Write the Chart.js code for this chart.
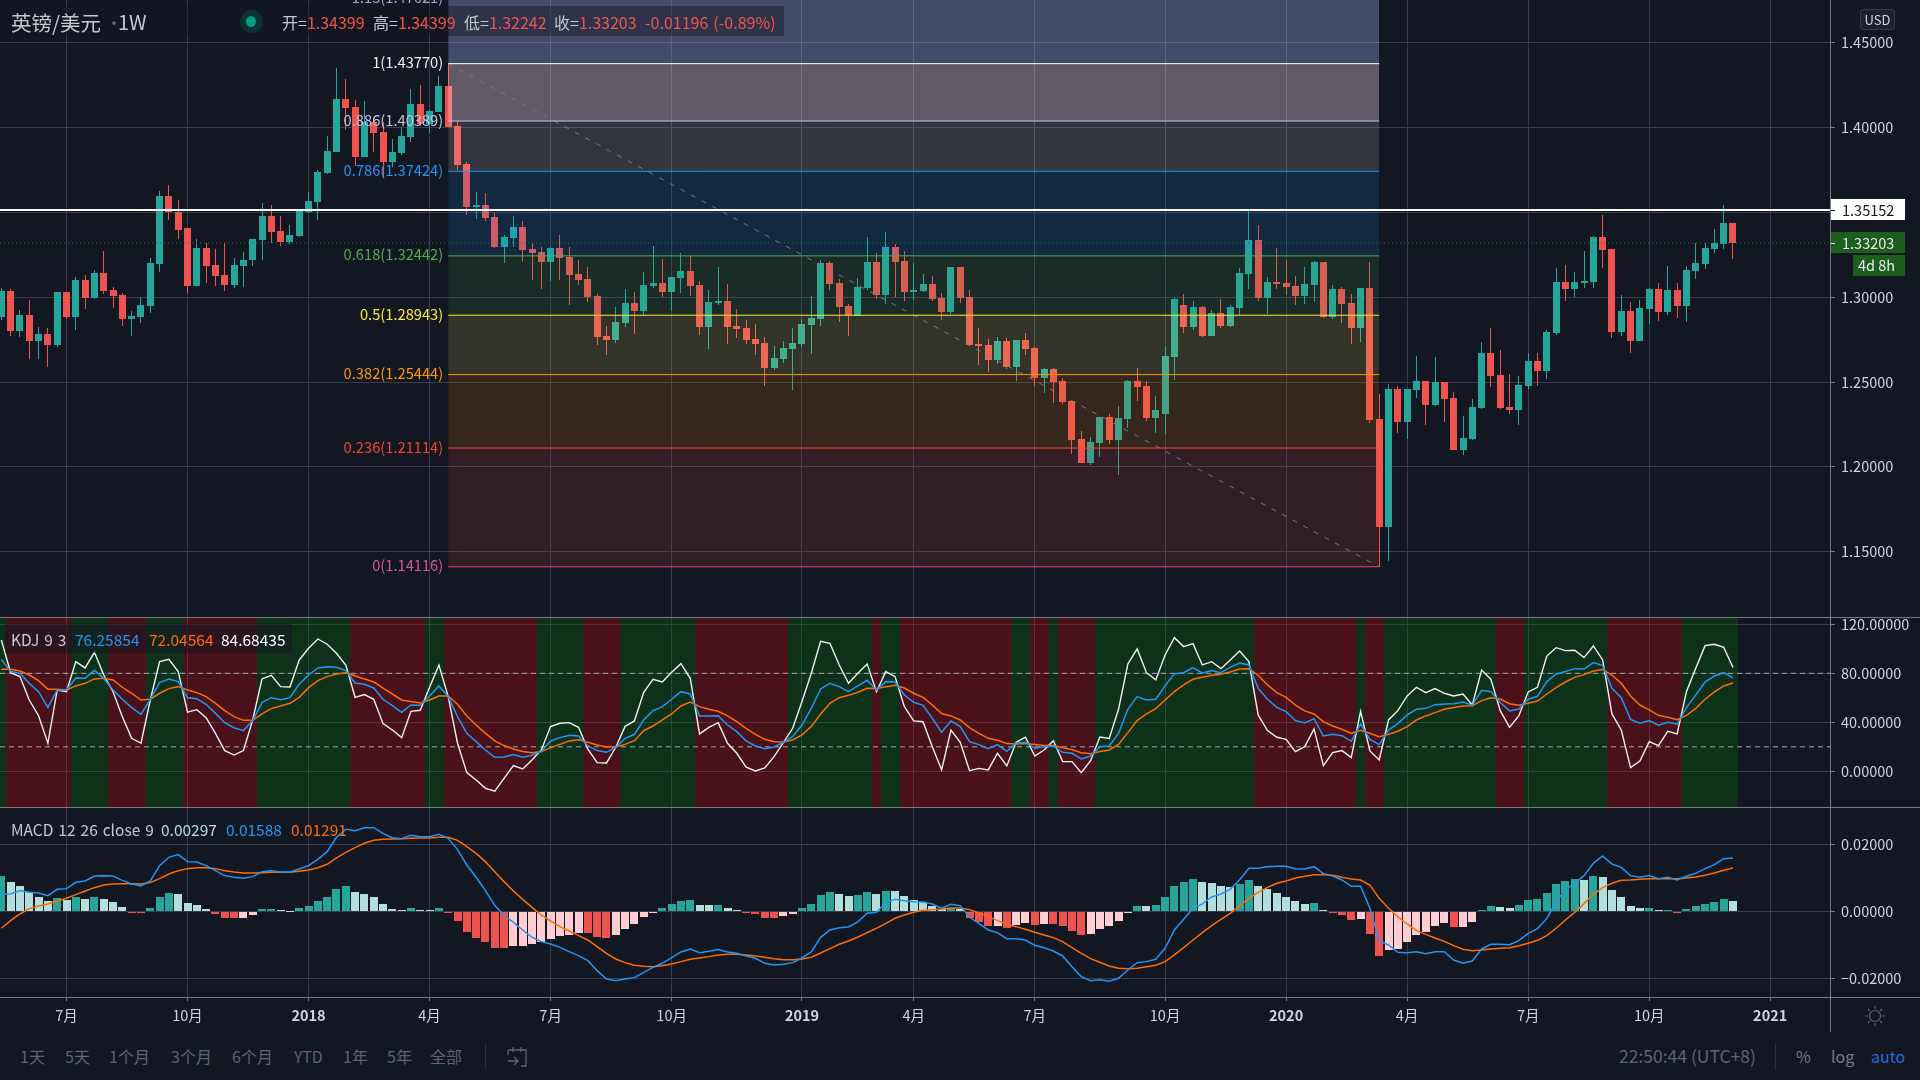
<!DOCTYPE html>
<html><head><meta charset="utf-8">
<script src="https://cdn.jsdelivr.net/npm/chart.js@4"></script>
<style>
html,body{margin:0;padding:0;background:#131722;width:1920px;height:1080px;overflow:hidden;font-family:"Noto Sans CJK SC","Noto Sans",sans-serif}
canvas{position:absolute;left:0}
.t{position:absolute;white-space:nowrap;line-height:20px;font-size:15.5px;color:#c5c8d0;word-spacing:1.5px}
.p{position:absolute}
.tb{position:absolute;white-space:nowrap;font-size:16px;line-height:22px;color:#5d6476;top:1045px}
</style></head><body>
<canvas id="cMain" width="1920" height="617" style="top:0"></canvas>
<canvas id="cKdj" width="1920" height="189" style="top:618px"></canvas>
<canvas id="cMacd" width="1920" height="224" style="top:808px"></canvas>

<div class="p" style="left:0;top:617px;width:1920px;height:1px;background:#787b86"></div>
<div class="p" style="left:0;top:807px;width:1920px;height:1px;background:#787b86"></div>
<div class="p" style="left:0;top:997px;width:1920px;height:1px;background:#787b86"></div>
<div class="p" style="left:1830px;top:0;width:1px;height:1032px;background:#787b86"></div>

<div class="p" style="left:0;top:6px;width:784px;height:30px;background:rgba(19,23,34,.45)"></div>
<div class="t" style="left:11px;top:10px;font-size:20.5px;line-height:24px;color:#c5c8d0">英镑/美元</div>
<div class="t" style="left:105px;top:10px;font-size:18px;line-height:24px;color:#5d6476">·</div>
<div class="t" style="left:118px;top:10px;font-size:20px;line-height:24px;color:#c5c8d0">1W</div>
<div class="p" style="left:240px;top:10px;width:23px;height:23px;border-radius:50%;background:#0b3333"></div>
<div class="p" style="left:246px;top:16px;width:10px;height:11px;border-radius:50%;background:#089981"></div>
<div class="t" style="left:282px;top:12px;font-size:16px">开=<span style="color:#ef5350">1.34399</span></div>
<div class="t" style="left:373px;top:12px;font-size:16px">高=<span style="color:#ef5350">1.34399</span></div>
<div class="t" style="left:464px;top:12px;font-size:16px">低=<span style="color:#ef5350">1.32242</span></div>
<div class="t" style="left:554px;top:12px;font-size:16px">收=<span style="color:#ef5350">1.33203</span></div>
<div class="t" style="left:645px;top:12px;font-size:16px;color:#ef5350">-0.01196 (-0.89%)</div>

<div class="p" style="left:1860px;top:9px;width:35px;height:21px;box-sizing:border-box;background:#1e222d;border:1px solid #363c4e;border-radius:3px;color:#d1d4dc;font-size:13px;line-height:19px;text-align:center">USD</div>

<div class="p" style="left:5px;top:623px;width:287px;height:30px;background:rgba(19,23,34,.55)"></div>
<div class="t" style="left:11px;top:629px">KDJ 9 3</div>
<div class="t" style="left:75px;top:629px;color:#2196f3">76.25854</div>
<div class="t" style="left:149px;top:629px;color:#ff6d00">72.04564</div>
<div class="t" style="left:221px;top:629px;color:#ffffff">84.68435</div>

<div class="t" style="left:11px;top:819px">MACD 12 26 close 9</div>
<div class="t" style="left:161px;top:819px;color:#b2dfdb">0.00297</div>
<div class="t" style="left:226px;top:819px;color:#2196f3">0.01588</div>
<div class="t" style="left:291px;top:819px;color:#ff6d00">0.01291</div>

<div class="tb" style="left:20px">1天</div><div class="tb" style="left:65px">5天</div>
<div class="tb" style="left:109px">1个月</div><div class="tb" style="left:171px">3个月</div>
<div class="tb" style="left:232px">6个月</div><div class="tb" style="left:294px">YTD</div>
<div class="tb" style="left:343px">1年</div><div class="tb" style="left:387px">5年</div>
<div class="tb" style="left:430px">全部</div>
<div class="p" style="left:485px;top:1043px;width:1px;height:27px;background:#2a2e39"></div>
<svg class="p" style="left:506px;top:1046px" width="24" height="22" viewBox="0 0 24 22" fill="none" stroke="#5d6476" stroke-width="1.3"><path d="M2 4h18v16h-5M2 4v5M7 1v5M15 1v5M2 15h10M8 11l4 4-4 4"/></svg>
<div class="tb" style="left:1619px;color:#5d6476;font-size:17.5px">22:50:44 (UTC+8)</div>
<div class="p" style="left:1775px;top:1043px;width:1px;height:27px;background:#2a2e39"></div>
<div class="tb" style="left:1796px;color:#787b86">%</div>
<div class="tb" style="left:1831px;color:#787b86">log</div>
<div class="tb" style="left:1871px;color:#1f6fe0">auto</div>
<svg class="p" style="left:1864px;top:1005px" width="22" height="22" viewBox="0 0 22 22" fill="none" stroke="#5d6476" stroke-width="1.2"><circle cx="11" cy="11" r="5.5"/><path d="M11 1v3M11 18v3M1 11h3M18 11h3M4 4l2 2M16 16l2 2M4 18l2-2M16 6l2-2"/></svg>

<script>
const fontFamily = '"Noto Sans CJK SC","Noto Sans",sans-serif';

const opens = [1.2886,1.3038,1.2803,1.2896,1.2744,1.2784,1.2721,1.3032,1.2886,1.3103,
1.2998,1.3144,1.3044,1.3014,1.2874,1.2886,1.2951,1.3197,1.3599,1.3504,
1.3406,1.3069,1.3291,1.3191,1.3132,1.3073,1.3187,1.3217,1.3339,1.348,
1.3392,1.3325,1.3362,1.3504,1.3563,1.3734,1.3858,1.4171,1.4124,1.3829,
1.4036,1.3976,1.3799,1.3852,1.3947,1.4142,1.4024,1.4095,1.4248,1.4012,
1.3787,1.3534,1.3545,1.3475,1.3297,1.335,1.3415,1.3286,1.3268,1.3209,
1.3291,1.3238,1.3138,1.3108,1.3008,1.2772,1.2748,1.2849,1.2967,
1.2919,1.3067,1.3085,1.3032,1.3114,1.3156,1.3073,1.2825,1.2967,1.2979,1.2831,
1.2819,1.2754,1.2731,1.2583,1.2636,1.2695,1.2725,1.2837,1.2872,1.3203,
1.3085,1.2949,1.2888,1.3055,1.3209,1.3014,1.3297,1.3215,1.3032,1.3038,
1.3079,1.2996,1.2914,1.3179,1.3002,1.2725,1.2719,1.263,1.2742,1.2589,
1.2748,1.2701,1.2524,1.2577,1.2506,1.2388,1.2164,1.2022,1.214,1.2294,
1.2158,1.2282,1.2506,1.2477,1.2288,1.2311,1.2648,1.2955,1.2825,1.2943,
1.2772,1.2908,1.2831,1.2937,1.3138,1.3339,1.2996,1.3091,1.3085,1.3067,
1.3008,1.3073,1.3209,1.2884,1.3049,1.2967,1.2819,1.3055,1.2282,1.1644,
1.2459,1.2264,1.2453,1.2506,1.2364,1.25,1.2406,1.2099,1.2163,1.2347,
1.2671,1.2541,1.2352,1.2335,1.2476,1.2624,1.2565,1.2789,1.3091,1.3049,
1.3085,1.3091,1.3356,1.3286,1.2795,1.2919,1.2742,1.2931,1.3049,1.2913,
1.3043,1.2949,1.3156,1.3197,1.3286,1.3315,1.34399];

const highs = [1.3053,1.3049,1.2923,1.2984,1.2825,1.2819,1.3032,1.3032,1.3118,1.3132,
1.3162,1.3274,1.3059,1.3026,1.2919,1.3002,1.3231,1.3624,1.3663,1.3575,
1.3406,1.3345,1.3321,1.3286,1.3321,1.3232,1.3268,1.3345,1.3557,1.3545,
1.348,1.3427,1.351,1.3622,1.3752,1.3953,1.4354,1.4289,1.416,1.4154,
1.4057,1.4036,1.3935,1.4006,1.423,1.4254,1.4106,1.4307,1.4377,1.4041,
1.3799,1.3622,1.3616,1.3498,1.3368,1.348,1.3451,1.3321,1.3297,1.3297,
1.3368,1.3297,1.3221,1.3179,1.302,1.2831,1.2943,1.3049,1.3032,
1.315,1.3303,1.3227,1.312,1.3262,1.3244,1.3097,1.3044,1.3179,1.3079,1.2931,
1.2866,1.2843,1.2766,1.2713,1.2742,1.2819,1.2872,1.3008,1.3221,1.3215,
1.3108,1.2961,1.3114,1.3356,1.3262,1.3386,1.3315,1.3274,1.3203,1.3138,
1.3126,1.3026,1.3179,1.3179,1.3044,1.2819,1.2754,1.2766,1.276,1.2748,
1.279,1.2707,1.2583,1.2583,1.2524,1.2388,1.2211,1.2175,1.2294,1.2311,
1.2358,1.2512,1.2583,1.2506,1.2418,1.2713,1.2996,1.302,1.2979,1.2949,
1.2923,1.299,1.2955,1.3173,1.3516,1.3427,1.312,1.3292,1.3221,1.3126,
1.3179,1.3215,1.3209,1.3073,1.3061,1.302,1.3055,1.3209,1.2429,1.2488,
1.2476,1.2459,1.2654,1.2506,1.2648,1.25,1.2441,1.2299,1.24,1.2736,
1.2819,1.2689,1.2547,1.2536,1.2671,1.2671,1.2807,1.3173,1.3191,1.315,
1.3274,1.3362,1.3486,1.3286,1.3014,1.2973,1.2984,1.3055,1.3085,1.3185,
1.3085,1.3185,1.3321,1.3321,1.3404,1.3545,1.34399];

const lows = [1.2866,1.2772,1.2768,1.2638,1.2638,1.2591,1.2709,1.287,1.2807,1.2931,
1.2992,1.302,1.2939,1.2833,1.2774,1.2851,1.291,1.3152,1.3453,1.3345,
1.3028,1.3069,1.3087,1.3069,1.3039,1.3057,1.3063,1.3187,1.3221,1.3321,
1.3303,1.3315,1.3354,1.3496,1.3457,1.3728,1.3858,1.3988,1.3776,1.3829,
1.3858,1.3711,1.377,1.3841,1.3917,1.4012,1.3971,1.4095,1.4006,1.3752,
1.3486,1.3463,1.3451,1.3291,1.3203,1.3297,1.3209,1.3102,1.3049,1.3097,
1.3102,1.2955,1.3073,1.2973,1.2719,1.266,1.273,1.2825,1.2784,
1.2896,1.3055,1.3002,1.2919,1.3026,1.3008,1.2778,1.2695,1.2955,1.2725,1.276,
1.2725,1.266,1.2477,1.2571,1.2612,1.2453,1.2707,1.2666,1.2831,1.3044,
1.2855,1.2772,1.2888,1.3044,1.299,1.2961,1.3002,1.2979,1.2984,1.3032,
1.2979,1.2866,1.2902,1.2967,1.2713,1.2601,1.2559,1.2606,1.2577,1.2506,
1.266,1.2477,1.2435,1.2376,1.237,1.2075,1.2022,1.201,1.2057,1.2134,
1.1951,1.2229,1.2388,1.227,1.2199,1.2193,1.2512,1.279,1.2807,1.2766,
1.2772,1.2819,1.2825,1.2896,1.3049,1.2979,1.2902,1.3049,1.3014,1.2955,
1.2961,1.2973,1.2878,1.2872,1.2849,1.2724,1.2736,1.2258,1.14116,1.1443,
1.2199,1.2163,1.2406,1.2246,1.2358,1.2264,1.2099,1.2069,1.2158,1.2341,
1.2471,1.2341,1.2311,1.2246,1.2459,1.2476,1.2518,1.2778,1.2978,1.3002,
1.3055,1.3055,1.3173,1.276,1.2772,1.2671,1.2742,1.2843,1.286,1.2896,
1.2878,1.2854,1.3108,1.3167,1.3262,1.3286,1.32242];

const closes = [1.3038,1.2803,1.2896,1.2744,1.2784,1.2721,1.3032,1.2886,1.3103,1.2998,
1.3144,1.304,1.301,1.2874,1.289,1.2955,1.3203,1.3599,1.35,1.3398,
1.3069,1.3291,1.3187,1.3128,1.3073,1.3191,1.3221,1.3345,1.348,1.3386,
1.3325,1.3368,1.351,1.3569,1.374,1.3864,1.4171,1.4118,1.3829,1.4036,
1.3971,1.3799,1.3858,1.3953,1.4142,1.4024,1.41,1.4248,1.4006,1.3782,
1.3534,1.3545,1.3469,1.3297,1.3356,1.3415,1.328,1.326,1.3209,1.3291,
1.3232,1.3132,1.3102,1.3002,1.2766,1.2748,1.2854,1.2967,1.2919,
1.3073,1.3085,1.3032,1.312,1.3156,1.3067,1.2825,1.2973,1.2979,1.2825,1.2813,
1.2748,1.2725,1.2583,1.2642,1.2701,1.2731,1.2843,1.2878,1.3203,1.3079,
1.2943,1.2894,1.3061,1.3209,1.3014,1.3297,1.3209,1.3032,1.3044,1.3079,
1.299,1.2914,1.3179,1.2996,1.2719,1.2713,1.263,1.2742,1.2589,1.2748,
1.2695,1.2524,1.2577,1.25,1.2382,1.2158,1.2022,1.2146,1.2294,1.2158,
1.2288,1.2506,1.2471,1.2288,1.2335,1.2654,1.299,1.2825,1.2943,1.2772,
1.2908,1.2831,1.2943,1.3144,1.3339,1.2996,1.3091,1.3079,1.3061,1.3008,
1.3079,1.3209,1.2884,1.3049,1.2961,1.2819,1.3055,1.2276,1.1644,1.2459,
1.2264,1.2459,1.2506,1.2364,1.25,1.24,1.2099,1.2169,1.2352,1.2671,
1.2536,1.2347,1.2335,1.2482,1.2624,1.2565,1.2795,1.3091,1.3049,1.3091,
1.3097,1.3356,1.328,1.2795,1.2919,1.2742,1.2937,1.3049,1.2913,1.3043,
1.2949,1.3162,1.3203,1.3291,1.3321,1.344,1.33203];

const kdjK = [91.4,81.4,80.0,71.8,65.0,52.2,66.4,66.4,76.2,75.9,
82.4,75.9,66.4,58.8,52.0,46.5,58.8,72.4,75.4,73.2,
60.1,59.3,54.7,47.3,39.7,35.6,33.2,41.4,56.1,60.1,
58.5,60.1,71.3,78.6,84.4,85.4,84.9,82.2,72.1,71.0,
68.0,58.8,53.6,48.2,54.1,53.9,61.5,69.7,61.0,44.6,
31.0,24.2,17.4,11.4,11.7,13.6,11.4,13.1,16.3,24.8,
27.5,29.4,28.8,20.7,16.9,15.5,19.6,26.9,30.2,
41.9,49.5,52.8,58.8,65.0,63.1,45.2,45.2,45.4,37.8,32.4,
24.8,20.7,18.5,19.9,23.7,28.3,37.8,51.4,67.2,71.8,
69.1,65.0,69.7,74.3,66.4,73.2,72.9,62.3,56.3,53.9,
43.3,31.8,41.1,36.5,24.2,21.8,18.5,21.8,16.3,22.9,
23.7,18.8,20.1,20.7,15.5,14.7,10.1,12.5,20.1,20.7,
31.0,50.6,61.0,58.2,58.8,69.7,79.7,80.5,84.6,80.3,
82.2,80.5,84.9,88.4,86.8,67.8,58.8,52.2,48.7,41.4,
39.5,43.0,28.8,30.2,29.1,24.5,38.6,26.1,21.8,33.7,
38.9,46.0,50.6,51.4,54.4,55.0,55.2,56.6,53.9,66.1,
65.0,56.1,49.3,50.9,58.8,61.2,73.2,79.2,81.4,83.8,
83.5,88.7,86.3,67.8,60.1,42.4,39.2,41.4,37.6,40.0,
38.4,52.0,62.3,72.9,77.8,80.5,76.26];

const kdjD = [83.3,83.3,81.9,78.6,74.0,66.9,66.9,66.4,69.7,71.8,
75.4,75.9,74.6,68.6,63.7,58.2,58.8,63.7,67.5,69.1,
66.4,64.2,61.0,55.5,49.5,44.6,41.6,41.6,46.8,51.2,
53.3,55.5,60.4,68.3,74.0,77.3,79.5,80.5,77.8,75.4,
72.9,67.8,63.1,58.2,56.9,55.8,58.2,61.5,61.5,54.7,
45.2,37.8,31.0,24.8,21.0,18.2,16.1,15.2,16.1,19.3,
22.0,24.8,25.8,23.7,21.5,19.9,19.9,22.0,25.0,
33.2,37.0,41.9,46.8,53.3,56.6,52.8,50.6,49.0,45.2,40.5,
35.1,30.2,26.1,24.2,23.9,25.6,29.7,36.5,46.8,55.5,
60.1,62.0,64.5,67.8,67.5,69.1,70.2,68.0,63.7,60.4,
54.1,47.1,45.2,41.9,35.6,31.0,26.9,25.3,22.6,22.3,
22.6,21.8,21.0,21.0,19.3,17.7,15.2,14.4,16.1,17.4,
22.0,31.6,41.4,46.8,51.2,58.2,65.0,70.5,75.1,76.7,
78.4,79.2,81.1,83.5,83.8,78.4,70.5,64.2,60.4,54.1,
49.3,46.8,40.5,37.0,34.3,31.0,33.5,31.0,28.3,30.2,
32.7,36.5,41.9,45.2,47.9,50.6,52.0,53.3,53.6,57.7,
60.1,59.0,55.2,53.9,55.5,57.4,63.1,68.3,72.9,76.7,
78.9,81.9,83.0,78.6,71.8,61.5,54.1,50.1,45.7,44.1,
42.2,45.7,51.4,58.8,64.8,69.7,72.05];

const kdjJ = [107.2,80.5,77.3,58.2,45.4,22.9,66.4,65.0,89.5,84.4,
97.1,78.6,65.0,44.6,26.9,22.9,58.2,89.5,91.4,81.4,
48.2,50.3,43.8,31.0,16.9,13.3,16.9,41.9,75.4,78.4,
69.1,68.8,90.9,100.4,108.0,103.7,96.3,86.8,60.4,62.6,
58.8,38.9,33.7,27.5,49.0,49.8,68.6,86.8,61.0,22.9,
-1.1,-7.1,-13.9,-16.3,-5.7,4.6,1.9,9.3,17.4,36.5,
39.2,39.7,35.9,18.0,7.1,6.8,19.6,36.7,41.1,
64.5,75.1,72.9,80.8,87.9,75.9,30.5,35.9,39.7,22.9,14.7,
3.3,0.3,2.7,12.0,23.4,35.1,56.9,80.0,106.1,104.5,
86.8,71.8,80.0,87.6,65.0,81.4,77.3,52.8,41.1,40.5,
20.1,1.1,33.7,23.7,0.5,2.4,1.1,14.7,4.4,23.7,
27.8,12.5,17.4,25.0,7.9,7.9,-1.1,8.7,28.0,26.9,
50.6,87.6,99.9,80.5,74.6,95.0,109.1,101.8,104.2,86.8,
89.5,83.8,90.9,98.2,89.5,46.0,33.2,27.8,26.1,16.1,
20.1,34.6,4.6,15.2,16.9,11.2,49.0,16.6,9.3,41.9,
49.5,61.5,68.6,64.2,67.5,63.7,61.5,63.1,54.1,82.7,
75.1,49.5,35.9,45.4,64.8,68.6,94.1,100.9,98.5,98.8,
92.8,102.3,90.9,46.8,33.7,3.0,8.4,24.2,21.0,32.7,
30.5,65.0,84.1,102.6,103.7,101.2,84.68];

/* 1 = green shading, 0 = red shading */
const kdjState = [1,0,0,0,0,0,0,0,1,1,1,1,0,0,0,0,1,1,1,1,
0,0,0,0,0,0,0,0,1,1,1,1,1,1,1,1,1,1,0,0,
0,0,0,0,0,0,1,1,0,0,0,0,0,0,0,0,0,0,1,1,
1,1,1,0,0,0,0,1,1,1,1,1,1,1,1,0,0,0,0,0,
0,0,0,0,0,1,1,1,1,1,1,1,1,1,0,1,1,0,0,0,
0,0,0,0,0,0,0,0,0,1,1,0,0,1,0,0,0,0,1,1,
1,1,1,1,1,1,1,1,1,1,1,1,1,1,1,0,0,0,0,0,
0,0,0,0,0,0,1,0,0,1,1,1,1,1,1,1,1,1,1,1,
1,0,0,0,1,1,1,1,1,1,1,1,1,0,0,0,0,0,0,0,
0,1,1,1,1,1,1];

const macdHist = [.01055,.00876,.00756,.00577,.00428,.00308,.00398,.00338,.00428,.00368,
.00428,.00368,.00279,.00129,-.0001,-.0003,.001,.00428,.00547,.00517,
.00249,.00189,.0007,-.0008,-.00199,-.00205,-.00199,-.0011,.00065,.0007,
.0004,.0001,.001,.00159,.00308,.00428,.00667,.00756,.00577,.00517,
.00428,.00219,.0007,.0004,.001,.0004,.00035,.001,-.0005,-.00289,
-.00617,-.00796,-.00915,-.01095,-.011,-.01035,-.0103,-.00975,-.00915,-.00826,
-.00736,-.00706,-.00647,-.00657,-.00766,-.00796,-.00706,-.00527,-.00378,
-.00169,-.0002,.001,.00219,.00308,.00338,.00189,.00185,.0019,.001,.0004,
-.0005,-.0008,-.00199,-.00205,-.00139,-.0008,.001,.00219,.00488,.00577,
.00517,.00458,.00488,.00577,.00517,.00607,.00602,.00458,.00338,.00279,
.00159,.0007,.0009,.0007,-.00199,-.00318,-.00438,-.00433,-.00498,-.00408,
-.00348,-.00408,-.00378,-.00383,-.00438,-.00587,-.00706,-.00677,-.00527,-.00438,
-.00289,-.0001,.00159,.00155,.00189,.00428,.00756,.00876,.00965,.00876,
.00846,.00756,.00726,.00816,.00935,.00756,.00667,.00547,.00428,.00308,
.00219,.00249,.0004,-.0001,-.0011,-.00259,-.00229,-.00677,-.01333,-.01154,
-.01124,-.00915,-.00706,-.00617,-.00438,-.00348,-.00468,-.00463,-.00318,.0004,
.00159,.00129,.001,.00189,.00338,.00368,.00547,.00816,.00905,.00965,
.00935,.01055,.01025,.00637,.00428,.00159,.001,.00105,.0004,.00045,
-.0005,.0007,.00159,.00219,.00279,.00368,.00297];

const macdLine = [.00507,.00517,.00617,.00567,.00547,.00468,.00657,.00677,.00866,.00905,
.01055,.01065,.01055,.00925,.00816,.00756,.00905,.01363,.01612,.01692,
.01483,.01473,.01363,.01214,.01065,.01015,.00985,.01035,.01184,.01214,
.01174,.01174,.01264,.01363,.01552,.01781,.02209,.02448,.02408,.02497,
.02497,.02328,.02199,.02169,.02269,.02229,.02229,.02298,.02179,.01841,
.01383,.01015,.00617,.00179,-.00119,-.00328,-.00557,-.00776,-.00905,-.00975,
-.01075,-.01204,-.01323,-.01473,-.01771,-.0202,-.0207,-.0202,-.0198,
-.01821,-.01672,-.01552,-.01383,-.01214,-.01124,-.01234,-.01194,-.01144,-.01214,-.01254,
-.01333,-.01403,-.01552,-.01602,-.01582,-.01532,-.01393,-.01214,-.00776,-.00557,
-.00488,-.00468,-.00318,-.0006,-.0003,.00259,.00358,.00318,.00289,.00279,
.00219,.0009,.00209,.00169,-.00179,-.00358,-.00557,-.00637,-.00816,-.00816,
-.00856,-.01015,-.01085,-.01184,-.01333,-.01652,-.0195,-.0207,-.0204,-.0209,
-.02,-.01751,-.01532,-.01502,-.01433,-.01104,-.00557,-.00239,.0009,.00219,
.00428,.00517,.00657,.00935,.01284,.01284,.01333,.01343,.01343,.01274,
.01264,.01333,.01124,.01055,.00935,.00746,.00746,.0009,-.00876,-.01005,
-.01224,-.01234,-.01204,-.01264,-.01204,-.01204,-.01453,-.01552,-.01483,-.01124,
-.00985,-.00985,-.00995,-.00876,-.00657,-.00517,-.00219,.00289,.00637,.00836,
.01065,.01433,.01652,.01413,.01313,.01065,.01015,.01065,.00975,.01015,
.00935,.01045,.01134,.01274,.01393,.01572,.01588];

const macdSignal = [-.00507,-.00279,-.0008,.0008,.00159,.00219,.00308,.00388,.00498,.00607,
.00706,.00786,.00816,.00826,.00826,.00816,.00856,.00975,.01114,.01214,
.01274,.01303,.01303,.01274,.01214,.01174,.01144,.01144,.01154,.01164,
.01164,.01164,.01194,.01234,.01303,.01403,.01592,.01761,.019,.0203,
.02119,.02149,.02159,.02169,.02179,.02189,.02189,.02209,.02209,.02119,
.0193,.01731,.01483,.01184,.00886,.00607,.00358,.00119,-.00109,-.00289,
-.00458,-.00587,-.00726,-.00856,-.01055,-.01254,-.01423,-.01532,-.01612,
-.01642,-.01652,-.01622,-.01572,-.01502,-.01433,-.01393,-.01353,-.01303,-.01284,-.01284,
-.01303,-.01333,-.01373,-.01413,-.01443,-.01443,-.01423,-.01373,-.01244,-.01114,
-.00985,-.00886,-.00766,-.00637,-.00507,-.00358,-.00209,-.00109,-.0003,.0003,
.0005,.0007,.001,.001,.0005,-.0005,-.00159,-.00279,-.00388,-.00458,
-.00537,-.00627,-.00706,-.00786,-.00905,-.01085,-.01254,-.01413,-.01522,-.01632,
-.01701,-.01711,-.01701,-.01652,-.01612,-.01502,-.01303,-.01085,-.00856,-.00637,
-.00428,-.00239,-.0006,.00169,.00388,.00567,.00716,.00836,.00905,.00995,
.01045,.01095,.01095,.01075,.01015,.00965,.00935,.00786,.00388,.0009,
-.00159,-.00378,-.00577,-.00687,-.00796,-.00896,-.01025,-.01134,-.01174,-.01154,
-.01124,-.01104,-.01085,-.01025,-.00955,-.00866,-.00726,-.00507,-.00259,-.0003,
.00229,.00507,.00706,.00836,.00925,.00935,.00955,.00975,.00975,.00975,
.00975,.00995,.01025,.01075,.01144,.01224,.01291];

const timeTickBars = [7,20,33,46,59,72,86,98,111,125,138,151,164,177,190];
const timeTickLabels = ['7月','10月','2018','4月','7月','10月','2019','4月','7月','10月','2020','4月','7月','10月','2021'];

const priceTicks = [1.15,1.2,1.25,1.3,1.35,1.4,1.45];
const kdjTicks = [0,40,80,120];
const kdjGuides = [80,20];
const macdTicks = [-.02,0,.02];

const fibRatios = ['1.13','1','0.886','0.786','0.618','0.5','0.382','0.236','0'];
const fibPrices = [1.47621,1.4377,1.40389,1.37424,1.32442,1.28943,1.25444,1.21114,1.14116];
const fibLineColors = ['#9fa8da','#ffffff','#d1c4e9','#2196f3','#4caf50','#ffeb3b','#ff9800','#f44336','#ec407a'];
const fibLabelColors = ['#9fa8da','#f0f0f0','#c9bfe0','#2196f3','#4caf50','#ffeb3b','#ff9800','#f44336','#cf5c8c'];
const fibBands = ['rgba(162,174,240,.35)','rgba(247,214,228,.35)','rgba(232,230,227,.15)','rgba(19,150,234,.15)','rgba(66,160,81,.15)','rgba(232,223,87,.15)','rgba(246,136,14,.15)','rgba(232,76,67,.15)'];
const fibStartBar = 48, fibEndBar = 148;

const resistancePrice = 1.35152, lastPrice = 1.33203;
const pxPerBar = 9.31, firstBarPx = 1.33, plotRight = 1830;
const xMin = -firstBarPx / pxPerBar, xMax = (plotRight - firstBarPx) / pxPerBar;
const COL_UP = '#26a69a', COL_DOWN = '#ef5350';
const GRID = '#363c4e', AXIS = '#787b86', TXT = '#d1d4dc';
const axisFont = {family: fontFamily, size: 14.5};

const snap = {
  id:'snap',
  afterDatasetsUpdate(chart){
    chart.data.datasets.forEach((ds,di)=>{
      if(!ds.snapBars) return;
      chart.getDatasetMeta(di).data.forEach(el=>{
        if(ds.snapBars === 'tile'){
          const l = Math.round(el.x - el.width/2), r = Math.round(el.x + el.width/2);
          el.x = (l+r)/2; el.width = r-l;
          return;
        }
        el.x = ds.snapBars === 'even' ? Math.round(el.x) : Math.floor(el.x)+.5;
        let a = Math.round(el.y), b = Math.round(el.base);
        if(a===b){ b = a+1; }
        el.y = a; el.base = b;
      });
    });
  }
};

const clearPad = s => { s.paddingTop = s.paddingBottom = s.paddingLeft = s.paddingRight = 0; };
function xScale(showLabels){
  return {
    type:'linear', min:xMin, max:xMax, offset:false,
    afterBuildTicks(s){ s.ticks = timeTickBars.map(v=>({value:v})); },
    afterFit(s){ s.height = showLabels ? 35 : 0; clearPad(s); },
    border:{display:false},
    grid:{color:GRID, offset:false, drawTicks:showLabels, tickLength:4, tickColor:AXIS, lineWidth:1},
    ticks:{
      display:showLabels, autoSkip:false, maxRotation:0, minRotation:0, padding:6, color:TXT,
      font:ctx=>{
        const i = timeTickBars.indexOf(ctx.tick ? ctx.tick.value : -1);
        const bold = i>=0 && /^\d{4}$/.test(timeTickLabels[i]);
        return {family:fontFamily,size:14.5,weight:bold?'bold':'normal'};
      },
      callback(v){ const i = timeTickBars.indexOf(v); return i<0 ? '' : timeTickLabels[i]; }
    }
  };
}
function yScale(min,max,ticks,fmt){
  return {
    position:'right', min, max,
    afterBuildTicks(s){ s.ticks = ticks.map(v=>({value:v})); },
    afterFit(s){ s.width = 90; clearPad(s); },
    border:{display:false},
    grid:{color:GRID, drawTicks:true, tickLength:5, tickColor:AXIS, lineWidth:1},
    ticks:{autoSkip:false, padding:6, color:TXT, font:axisFont, callback:fmt}
  };
}
const baseOptions = scales => ({
  responsive:false, animation:false, devicePixelRatio:1, events:[],
  layout:{padding:0, autoPadding:false},
  plugins:{legend:{display:false}, tooltip:{enabled:false}},
  scales
});
const line = (data,color,width,extra) => Object.assign({
  type:'line', data, borderColor:color, borderWidth:width, pointRadius:0, tension:0, fill:false, order:0
}, extra||{});
const series = arr => arr.map((v,i)=>({x:i,y:v}));
const flat = (v,a,b) => [{x:a,y:v},{x:b,y:v}];

const candleColors = closes.map((c,i)=> c>=opens[i] ? COL_UP : COL_DOWN);

const overlay = {
  id:'overlay',
  afterDraw(chart){
    const ctx = chart.ctx, x = chart.scales.x, y = chart.scales.y;
    ctx.save();
    ctx.font = '14.7px '+fontFamily;
    ctx.textBaseline = 'middle';
    ctx.textAlign = 'right';
    const lx = x.getPixelForValue(fibStartBar) - 5;
    fibRatios.forEach((r,i)=>{
      ctx.fillStyle = fibLabelColors[i];
      ctx.fillText(r+'('+fibPrices[i].toFixed(5)+')', lx, y.getPixelForValue(fibPrices[i]) - 1);
    });
    ctx.textAlign = 'left';
    ctx.font = '14.5px '+fontFamily;
    const tag = (price,bg,fg)=>{
      const py = Math.round(y.getPixelForValue(price));
      ctx.fillStyle = bg;
      ctx.fillRect(plotRight, py-11, 75, 21);
      ctx.fillStyle = fg;
      ctx.fillRect(plotRight, py, 5, 1);
      ctx.fillText(price.toFixed(5), plotRight+12, py);
    };
    tag(resistancePrice,'#ffffff','#131722');
    tag(lastPrice,'#1b5e20','#e6e8ee');
    const py = Math.round(y.getPixelForValue(lastPrice));
    ctx.fillStyle = '#1b5e20';
    ctx.fillRect(1853, py+12, 52, 21);
    ctx.fillStyle = '#e6e8ee';
    ctx.fillText('4d 8h', 1858, py+22);
    ctx.restore();
  }
};

/* ---------- price pane ---------- */
const fibFills = fibPrices.slice(0,-1).map((p,i)=>{
  const top = i===0 ? 1.4756 : p;
  return line(flat(top,fibStartBar,fibEndBar),'rgba(0,0,0,0)',0,{
    fill:{target:{value:fibPrices[i+1]}}, backgroundColor:fibBands[i], order:1
  });
});
const fibLines = fibPrices.map((p,i)=> line(flat(p,fibStartBar,fibEndBar),fibLineColors[i],1,{order:0}));
new Chart(document.getElementById('cMain'),{
  type:'bar',
  data:{datasets:[
    {type:'bar',grouped:false,inflateAmount:0,snapBars:'odd',barThickness:1,order:4,
     data:highs.map((h,i)=>({x:i,y:[lows[i],h]})),backgroundColor:candleColors},
    {type:'bar',grouped:false,inflateAmount:0,snapBars:'odd',barThickness:7,order:3,
     data:opens.map((o,i)=>({x:i,y:[o,closes[i]]})),backgroundColor:candleColors},
    ...fibFills,
    ...fibLines,
    line([{x:fibStartBar,y:fibPrices[1]},{x:fibEndBar,y:fibPrices[8]}],'#787b86',1,{borderDash:[5,7]}),
    line(flat(lastPrice,xMin,xMax),'#1f7a33',1,{borderDash:[1,3]}),
    line(flat(resistancePrice,xMin,xMax),'#ffffff',2)
  ]},
  options:baseOptions({x:xScale(false), y:yScale(1.11157,1.47522,priceTicks,v=>v.toFixed(5))}),
  plugins:[snap,overlay]
});

/* ---------- KDJ pane ---------- */
new Chart(document.getElementById('cKdj'),{
  type:'bar',
  data:{datasets:[
    {type:'bar',grouped:false,inflateAmount:0,snapBars:'tile',barThickness:pxPerBar,order:3,
     data:kdjState.map((s,i)=>({x:i,y:[-30,130]})),
     backgroundColor:kdjState.map(s=> s ? 'rgba(0,128,0,.25)' : 'rgba(255,0,0,.237)')},
    ...kdjGuides.map(v=> line(flat(v,xMin,xMax),'#a4a7b0',1,{borderDash:[5,4],order:2})),
    line(series(kdjJ),'#f2f2f2',1.4,{order:1}),
    line(series(kdjK),'#2196f3',1.5,{order:0}),
    line(series(kdjD),'#ff6d00',1.5,{order:0})
  ]},
  options:baseOptions({x:xScale(false), y:yScale(-29.14,125.14,kdjTicks,v=>v.toFixed(5))}),
  plugins:[snap]
});

/* ---------- MACD pane ---------- */
const histColors = macdHist.map((v,i)=>{
  const prev = i ? macdHist[i-1] : -1;
  return v>=0 ? (v>prev ? COL_UP : '#b2dfdb') : (v<prev ? COL_DOWN : '#ffcdd2');
});
new Chart(document.getElementById('cMacd'),{
  type:'bar',
  data:{datasets:[
    {type:'bar',grouped:false,inflateAmount:0,snapBars:'even',barThickness:8,order:2,
     data:series(macdHist),backgroundColor:histColors},
    line(series(macdLine),'#2196f3',1.5,{order:0}),
    line(series(macdSignal),'#ff6d00',1.5,{order:1})
  ]},
  options:baseOptions({x:xScale(true), y:yScale(-.02558,.03084,macdTicks,
    v=> (v<0?'\u2212':'')+Math.abs(v).toFixed(5))}),
  plugins:[snap]
});
</script>
</body></html>
